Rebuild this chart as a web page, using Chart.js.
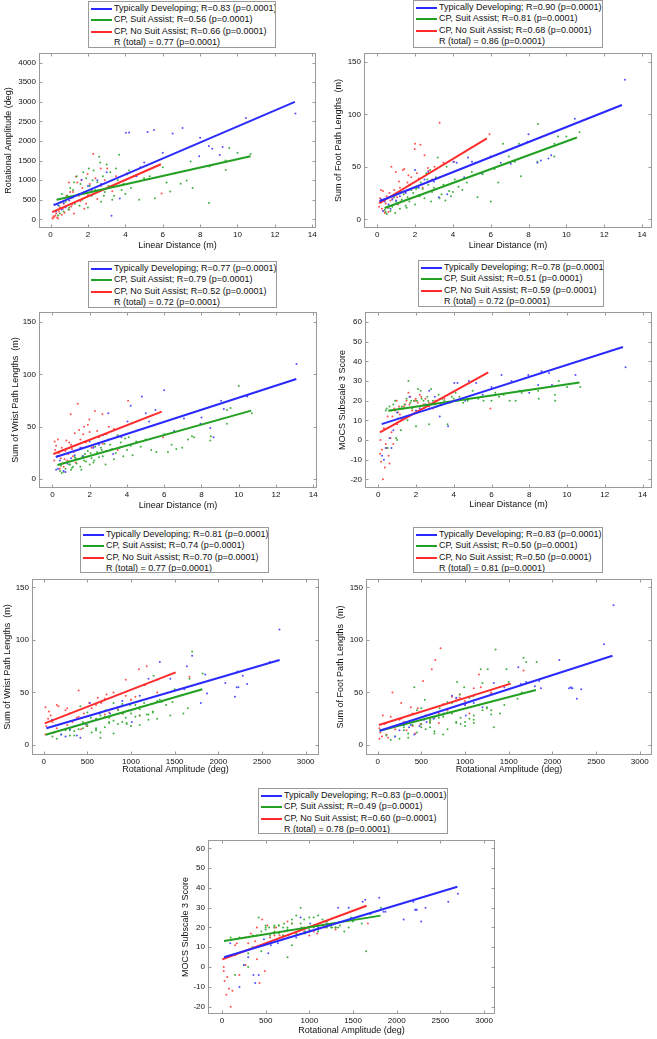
<!DOCTYPE html>
<html>
<head>
<meta charset="utf-8">
<script src="https://cdn.jsdelivr.net/npm/chart.js@4.4.1/dist/chart.umd.min.js"></script>
<style>
html,body{margin:0;padding:0;background:#fff;}
body{width:657px;height:1039px;position:relative;overflow:hidden;font-family:'Liberation Sans',Arial,Helvetica,sans-serif;}
canvas{position:absolute;}
.leg{position:absolute;box-sizing:border-box;border:1px solid #9a9a9a;background:#fff;font-size:9px;color:#111;padding-top:0.5px;white-space:nowrap;overflow:hidden;}
.row{height:11.5px;line-height:11.5px;position:relative;padding-left:25px;}
.sw{position:absolute;left:2px;top:5px;width:21px;height:2px;}
</style>
</head>
<body>
<script>
// ---------- tick labels ----------
const linTicks  = [0, 2, 4, 6, 8, 10, 12, 14];
const rotTicks  = [0, 500, 1000, 1500, 2000, 2500, 3000];
const rotYTicks = [0, 500, 1000, 1500, 2000, 2500, 3000, 3500, 4000];
const pathTicks = [0, 50, 100, 150];
const mocsTicks = [-20, -10, 0, 10, 20, 30, 40, 50, 60];

// ---------- series names ----------
const groupNames = ['Typically Developing', 'CP, Suit Assist', 'CP, No Suit Assist'];

// ---------- Typically Developing ----------
const TD_lin   = [13.10,10.45,9.20,9.05,8.65,8.47,8.00,7.95,7.06,6.53,6.00,5.53,5.19,5.01,4.80,4.20,4.03,4.60,3.70,3.26,3.00,2.70,2.50,2.20,2.00,1.66,1.50,1.20,1.00,0.80,0.60,0.40,0.30,0.20,0.70];
const TD_rot   = [2700,2590,1850,1640,1800,1870,2080,1610,2330,2190,1700,2280,2230,1450,1330,2220,2210,1100,530,95,1200,900,1000,760,850,1010,640,560,480,300,250,360,200,380,420];
const TD_foot  = [133,96,61,58,56,54,81,74,53,54,60,44,54,55,59,54,55,40,24,21,36,45,38,30,47,28,25,22,18,19,14,17,8,19,10];
const TD_wrist = [110,79,67,75,40,49,59,53,58,46,85,66,55,63,79,70,55,47,40,24,63,42,33,30,36,22,30,23,20,15,8,18,10,9,7];
const TD_mocs  = [37,33,28,34,35,28,24,33,30,33,27,23,29,30,30,29,29,20,7,12,22,25,18,16,15,22,12,11,14,5,1,-4,-10,-8,-4];

// ---------- CP, Suit Assist ----------
const SA_lin   = [10.70,10.00,9.56,9.36,9.37,8.47,8.50,7.60,7.49,7.28,6.96,6.65,6.40,6.20,6.00,5.58,5.30,5.00,4.74,4.50,4.30,4.20,4.00,3.90,3.67,3.60,3.50,3.40,3.20,3.10,3.00,2.90,2.80,2.70,2.60,2.50,2.40,2.30,2.20,2.10,2.00,1.90,1.80,1.70,1.60,1.50,1.40,1.30,1.20,1.10,1.00,0.90,0.80,0.70,0.60,0.50,0.45,0.40,1.25,1.75,2.25,2.65,3.30,3.80,4.10,1.05,0.95,1.55,2.05,2.85];
const SA_rot   = [1670,1700,1820,1500,1260,420,1350,800,1475,990,910,1180,710,940,1330,540,1100,1050,500,1100,800,1250,650,900,1650,1000,1300,600,1200,850,1400,700,1100,450,1600,950,750,1250,600,850,300,1050,700,500,900,650,1100,400,750,550,300,600,450,200,650,150,350,100,950,1200,1000,1450,500,750,1150,800,250,350,1300,600];
const SA_foot  = [83,79,79,60,72,55,91,41,72,55,60,72,35,48,17,43,21,45,35,28,31,36,26,22,50,18,33,24,59,40,30,26,47,33,44,20,29,35,23,30,14,25,28,17,21,13,24,19,10,15,17,21,12,8,11,5,7,9,26,33,22,38,20,27,38,15,6,11,29,17];
const SA_wrist = [63,89,68,53,66,37,41,40,41,38,30,29,33,26,43,26,28,38,31,36,23,32,28,39,35,30,42,25,29,33,38,27,34,22,30,21,26,31,16,20,14,27,17,18,22,12,19,15,21,12,9,14,16,10,7,6,13,8,20,24,18,28,19,22,40,11,14,9,25,14];
const SA_mocs  = [27,27,30,23,20,25,21,24,25,20,20,23,22,24,20,20,21,25,20,19,22,20,21,22,8,19,20,21,23,17,18,20,26,8,22,18,20,21,17,26,7,20,16,19,30,21,18,16,5,16,0,20,18,15,17,-4,16,15,17,20,25,20,21,19,24,11,1,10,20,18];

// ---------- CP, No Suit Assist ----------
const NS_lin   = [5.94,4.06,3.30,3.03,2.68,2.28,1.98,2.00,1.43,0.98,1.36,0.75,2.50,1.60,1.80,2.90,1.20,0.90,0.50,0.30,0.20,0.15,0.10,0.25,0.35,0.45,0.60,0.40,0.70,1.00,1.10,1.50,1.70,2.10,2.40,3.50,1.25,0.55,0.80,0.65,1.15,2.20,0.85,1.90,2.70,0.12,1.05,1.65];
const NS_rot   = [660,1180,720,1300,1300,1670,1160,620,940,940,1090,170,520,460,270,1000,700,550,300,150,60,80,30,100,50,200,120,20,400,250,330,600,800,900,1050,1100,150,430,490,270,380,750,600,400,850,20,700,1000];
const NS_foot  = [81,55,92,50,49,71,67,72,48,45,47,50,61,35,40,38,30,28,22,27,28,20,12,10,8,15,7,6,18,24,14,26,33,44,30,54,17,11,20,25,36,39,22,30,46,16,21,42];
const NS_wrist = [40,75,48,50,62,65,57,45,47,62,72,37,40,30,35,43,44,35,30,38,32,28,18,22,25,20,12,10,27,33,22,38,50,30,46,28,16,15,18,19,26,31,24,52,34,36,29,43];
const NS_mocs  = [16,20,18,20,19,22,21,20,18,20,17,12,21,24,15,16,16,15,12,6,-5,-11,-7,-20,-14,-4,-12,-2,4,8,17,20,22,19,18,21,11,-8,-2,1,13,23,16,20,17,0,14,18];

// ---------- regression lines [x1, y1, x2, y2] for TD, SA, NS ----------
const fitP1 = [[0.18,364,13.07,3000],[0.32,500,10.7,1610],[0.09,186,5.9,1407]];
const fitP2 = [[0.12,17.2,12.94,109],[0.39,10.8,10.56,78],[0.12,15.3,5.8,77.2]];
const fitP3 = [[0.18,21.3,13.09,95.6],[0.27,13.7,10.67,65.5],[0.05,24.1,5.87,64.5]];
const fitP4 = [[0.18,8.1,12.96,47.3],[0.53,14.9,10.66,29.2],[0.09,3.9,5.83,34.4]];
const fitP5 = [[31,15.9,2702,80.9],[23,9.8,1817,53],[11,20.6,1511,69.1]];
const fitP6 = [[23,13.6,2688,85],[23,13.6,1812,52.3],[15,19,1523,58.4]];
const fitP7 = [[23,5,2694,40.6],[23,13.2,1815,26],[4,3.9,1655,31]];

// ---------- correlation values (TD, SA, NS, total) ----------
const rP1 = ['0.83','0.56','0.66','0.77'];
const rP2 = ['0.90','0.81','0.68','0.86'];
const rP3 = ['0.77','0.79','0.52','0.72'];
const rP4 = ['0.78','0.51','0.59','0.72'];
const rP5 = ['0.81','0.74','0.70','0.77'];
const rP6 = ['0.83','0.50','0.50','0.81'];
const rP7 = ['0.83','0.49','0.60','0.78'];

const vars = {
  lin:   [TD_lin, SA_lin, NS_lin],
  rot:   [TD_rot, SA_rot, NS_rot],
  foot:  [TD_foot, SA_foot, NS_foot],
  wrist: [TD_wrist, SA_wrist, NS_wrist],
  mocs:  [TD_mocs, SA_mocs, NS_mocs]
};

const lineColors  = ['#2a2aff', '#22a022', '#ff2a2a'];
const pointColors = ['#5050ff', '#40b040', '#ff5050'];

// layout (not data): plot box [left, right, top, bottom], title centres, legend box [left, top, w, h]
const panels = [
  {x:'lin', y:'rot',   xr:[-0.62,14.2], yr:[-220,4246], xt:linTicks, yt:rotYTicks, xl:'Linear Distance (m)', yl:'Rotational Amplitude (deg)', fit:fitP1, r:rP1, box:[39,316,53,228], yT:8,   xT:246,  leg:[88,1,188,47]},
  {x:'lin', y:'foot',  xr:[-0.70,14.53], yr:[-8.3,158.6], xt:linTicks, yt:pathTicks, xl:'Linear Distance (m)', yl:'Sum of Foot Path Lengths  (m)', fit:fitP2, r:rP2, box:[364,652,53,228], yT:338, xT:246, leg:[413,0,190,48]},
  {x:'lin', y:'wrist', xr:[-0.72,14.2], yr:[-8.3,159.5], xt:linTicks, yt:pathTicks, xl:'Linear Distance (m)', yl:'Sum of Wrist Path Lengths  (m)', fit:fitP3, r:rP3, box:[39,317,312,488], yT:15, xT:506, leg:[88,261,189,47]},
  {x:'lin', y:'mocs',  xr:[-0.70,14.5], yr:[-24.4,65.1], xt:linTicks, yt:mocsTicks, xl:'Linear Distance (m)', yl:'MOCS Subscale 3 Score', fit:fitP4, r:rP4, box:[365,652,312,488], yT:342, xT:505, leg:[418,260,186,47]},
  {x:'rot', y:'wrist', xr:[-134,3153], yr:[-9.5,158], xt:rotTicks, yt:pathTicks, xl:'Rotational Amplitude (deg)', yl:'Sum of Wrist Path Lengths  (m)', fit:fitP5, r:rP5, box:[32,319,579,755], yT:7, xT:770, leg:[80,527,189,46]},
  {x:'rot', y:'foot',  xr:[-133,3140], yr:[-9.5,158], xt:rotTicks, yt:pathTicks, xl:'Rotational Amplitude (deg)', yl:'Sum of Foot Path Lengths  (m)', fit:fitP6, r:rP6, box:[366,652,579,755], yT:340, xT:770, leg:[413,527,190,46]},
  {x:'rot', y:'mocs',  xr:[-160,3125], yr:[-23.7,64.2], xt:rotTicks, yt:mocsTicks, xl:'Rotational Amplitude (deg)', yl:'MOCS Subscale 3 Score', fit:fitP7, r:rP7, box:[208,495,840,1014], yT:185, xT:1031, leg:[258,788,190,46]}
];

Chart.defaults.font.family = "'Liberation Sans', Arial, Helvetica, sans-serif";
Chart.defaults.color = '#111';

const framePlugin = {
  id: 'frame',
  afterDraw(chart) {
    const {ctx, chartArea: a, scales} = chart;
    const xs = scales.x, ys = scales.y;
    ctx.save();
    ctx.strokeStyle = '#9a9a9a';
    ctx.lineWidth = 1;
    const l = Math.round(a.left) + 0.5, r = Math.round(a.right) - 0.5;
    const t = Math.round(a.top) + 0.5, b = Math.round(a.bottom) - 0.5;
    ctx.strokeRect(l, t, r - l, b - t);
    ctx.beginPath();
    xs.ticks.forEach(tk => {
      const p = Math.round(xs.getPixelForValue(tk.value)) + 0.5;
      ctx.moveTo(p, b); ctx.lineTo(p, b - 3);
      ctx.moveTo(p, t); ctx.lineTo(p, t + 3);
    });
    ys.ticks.forEach(tk => {
      const p = Math.round(ys.getPixelForValue(tk.value)) + 0.5;
      ctx.moveTo(l, p); ctx.lineTo(l + 3, p);
      ctx.moveTo(r, p); ctx.lineTo(r - 3, p);
    });
    ctx.stroke();
    ctx.restore();
  }
};

const padT = 10, padR = 6;
const plainLabel = v => String(v);

panels.forEach(p => {
  const [L, R, T, B] = p.box;
  const left = Math.round(p.yT - 5.4);
  const yW = L - left;
  const xH = Math.round(p.xT + 5.4 - B);
  const W = yW + (R - L) + padR;
  const H = padT + (B - T) + xH;

  const cv = document.createElement('canvas');
  cv.width = W; cv.height = H;
  cv.style.left = left + 'px';
  cv.style.top = (T - padT) + 'px';
  cv.style.width = W + 'px';
  cv.style.height = H + 'px';
  document.body.appendChild(cv);

  const datasets = [];
  for (let g = 0; g < 3; g++) {
    const f = p.fit[g];
    datasets.push({
      type: 'line', label: groupNames[g] + ' fit',
      data: [{x: f[0], y: f[1]}, {x: f[2], y: f[3]}],
      borderColor: lineColors[g], borderWidth: 2, pointRadius: 0,
      fill: false, tension: 0, order: 0
    });
  }
  for (let g = 0; g < 3; g++) {
    const xv = vars[p.x][g], yv = vars[p.y][g];
    datasets.push({
      type: 'scatter', label: groupNames[g],
      data: xv.map((v, i) => ({x: v, y: yv[i]})),
      backgroundColor: pointColors[g], borderWidth: 0,
      pointRadius: 1.0, pointHoverRadius: 1.0, order: 1 + g
    });
  }

  new Chart(cv, {
    type: 'scatter',
    data: {datasets},
    options: {
      responsive: false, animation: false, devicePixelRatio: 1,
      layout: {padding: {left: 0, top: padT, right: padR, bottom: 0}},
      plugins: {legend: {display: false}, tooltip: {enabled: false}},
      scales: {
        x: {
          type: 'linear', min: p.xr[0], max: p.xr[1],
          afterBuildTicks: s => { s.ticks = p.xt.map(v => ({value: v})); },
          afterFit: s => { s.height = xH; },
          grid: {display: false, drawTicks: false},
          border: {display: false},
          ticks: {font: {size: 8}, padding: 2, maxRotation: 0, autoSkip: false, callback: plainLabel},
          title: {display: true, text: p.xl, font: {size: 9}, padding: 0}
        },
        y: {
          type: 'linear', min: p.yr[0], max: p.yr[1],
          afterBuildTicks: s => { s.ticks = p.yt.map(v => ({value: v})); },
          afterFit: s => { s.width = yW; },
          grid: {display: false, drawTicks: false},
          border: {display: false},
          ticks: {font: {size: 8}, padding: 3, autoSkip: false, callback: plainLabel},
          title: {display: true, text: p.yl, font: {size: 9}, padding: 0}
        }
      }
    },
    plugins: [framePlugin]
  });

  // legend box (HTML text)
  const lg = document.createElement('div');
  lg.className = 'leg';
  lg.style.left = p.leg[0] + 'px';
  lg.style.top = p.leg[1] + 'px';
  lg.style.width = p.leg[2] + 'px';
  lg.style.height = p.leg[3] + 'px';
  for (let g = 0; g < 3; g++) {
    const row = document.createElement('div');
    row.className = 'row';
    const sw = document.createElement('span');
    sw.className = 'sw';
    sw.style.background = lineColors[g];
    row.appendChild(sw);
    row.appendChild(document.createTextNode(groupNames[g] + '; R=' + p.r[g] + ' (p=0.0001)'));
    lg.appendChild(row);
  }
  const tot = document.createElement('div');
  tot.className = 'row';
  tot.textContent = 'R (total) = ' + p.r[3] + ' (p=0.0001)';
  lg.appendChild(tot);
  document.body.appendChild(lg);
});
</script>
</body>
</html>
